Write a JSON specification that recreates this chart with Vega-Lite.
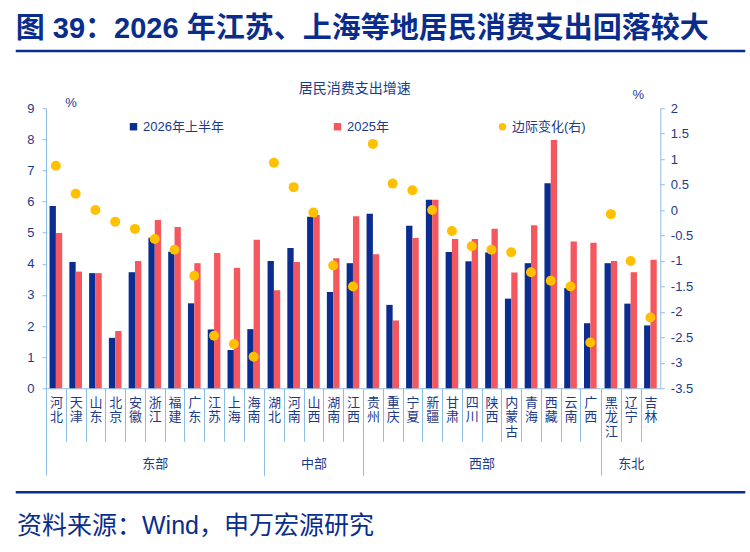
{
  "$schema": "https://vega.github.io/schema/vega-lite/v6.json",
  "padding": {"left": 15, "top": 14, "right": 8, "bottom": 4},
  "background": "white",
  "title": {
    "text": "图 39：2026 年江苏、上海等地居民消费支出回落较大",
    "anchor": "start",
    "fontSize": 29,
    "fontWeight": "bold",
    "color": "#0a2d8c",
    "offset": 3.5
  },
  "datasets": {
    "spend": [
      {"g": "东部", "p": "河北", "s": "2026年上半年", "v": 5.86}, {"g": "东部", "p": "河北", "s": "2025年", "v": 4.99}, {"g": "东部", "p": "河北", "s": "边际变化(右)", "v": 0.87},
      {"g": "东部", "p": "天津", "s": "2026年上半年", "v": 4.06}, {"g": "东部", "p": "天津", "s": "2025年", "v": 3.75}, {"g": "东部", "p": "天津", "s": "边际变化(右)", "v": 0.32},
      {"g": "东部", "p": "山东", "s": "2026年上半年", "v": 3.70}, {"g": "东部", "p": "山东", "s": "2025年", "v": 3.70}, {"g": "东部", "p": "山东", "s": "边际变化(右)", "v": 0.0},
      {"g": "东部", "p": "北京", "s": "2026年上半年", "v": 1.62}, {"g": "东部", "p": "北京", "s": "2025年", "v": 1.84}, {"g": "东部", "p": "北京", "s": "边际变化(右)", "v": -0.23},
      {"g": "东部", "p": "安徽", "s": "2026年上半年", "v": 3.73}, {"g": "东部", "p": "安徽", "s": "2025年", "v": 4.09}, {"g": "东部", "p": "安徽", "s": "边际变化(右)", "v": -0.37},
      {"g": "东部", "p": "浙江", "s": "2026年上半年", "v": 4.84}, {"g": "东部", "p": "浙江", "s": "2025年", "v": 5.41}, {"g": "东部", "p": "浙江", "s": "边际变化(右)", "v": -0.57},
      {"g": "东部", "p": "福建", "s": "2026年上半年", "v": 4.39}, {"g": "东部", "p": "福建", "s": "2025年", "v": 5.18}, {"g": "东部", "p": "福建", "s": "边际变化(右)", "v": -0.78},
      {"g": "东部", "p": "广东", "s": "2026年上半年", "v": 2.73}, {"g": "东部", "p": "广东", "s": "2025年", "v": 4.02}, {"g": "东部", "p": "广东", "s": "边际变化(右)", "v": -1.29},
      {"g": "东部", "p": "江苏", "s": "2026年上半年", "v": 1.89}, {"g": "东部", "p": "江苏", "s": "2025年", "v": 4.35}, {"g": "东部", "p": "江苏", "s": "边际变化(右)", "v": -2.47},
      {"g": "东部", "p": "上海", "s": "2026年上半年", "v": 1.23}, {"g": "东部", "p": "上海", "s": "2025年", "v": 3.87}, {"g": "东部", "p": "上海", "s": "边际变化(右)", "v": -2.63},
      {"g": "东部", "p": "海南", "s": "2026年上半年", "v": 1.90}, {"g": "东部", "p": "海南", "s": "2025年", "v": 4.77}, {"g": "东部", "p": "海南", "s": "边际变化(右)", "v": -2.88},
      {"g": "中部", "p": "湖北", "s": "2026年上半年", "v": 4.09}, {"g": "中部", "p": "湖北", "s": "2025年", "v": 3.15}, {"g": "中部", "p": "湖北", "s": "边际变化(右)", "v": 0.93},
      {"g": "中部", "p": "河南", "s": "2026年上半年", "v": 4.51}, {"g": "中部", "p": "河南", "s": "2025年", "v": 4.06}, {"g": "中部", "p": "河南", "s": "边际变化(右)", "v": 0.45},
      {"g": "中部", "p": "山西", "s": "2026年上半年", "v": 5.51}, {"g": "中部", "p": "山西", "s": "2025年", "v": 5.57}, {"g": "中部", "p": "山西", "s": "边际变化(右)", "v": -0.05},
      {"g": "中部", "p": "湖南", "s": "2026年上半年", "v": 3.09}, {"g": "中部", "p": "湖南", "s": "2025年", "v": 4.18}, {"g": "中部", "p": "湖南", "s": "边际变化(右)", "v": -1.09},
      {"g": "中部", "p": "江西", "s": "2026年上半年", "v": 4.02}, {"g": "中部", "p": "江西", "s": "2025年", "v": 5.53}, {"g": "中部", "p": "江西", "s": "边际变化(右)", "v": -1.50},
      {"g": "西部", "p": "贵州", "s": "2026年上半年", "v": 5.61}, {"g": "西部", "p": "贵州", "s": "2025年", "v": 4.31}, {"g": "西部", "p": "贵州", "s": "边际变化(右)", "v": 1.30},
      {"g": "西部", "p": "重庆", "s": "2026年上半年", "v": 2.68}, {"g": "西部", "p": "重庆", "s": "2025年", "v": 2.18}, {"g": "西部", "p": "重庆", "s": "边际变化(右)", "v": 0.52},
      {"g": "西部", "p": "宁夏", "s": "2026年上半年", "v": 5.22}, {"g": "西部", "p": "宁夏", "s": "2025年", "v": 4.83}, {"g": "西部", "p": "宁夏", "s": "边际变化(右)", "v": 0.39},
      {"g": "西部", "p": "新疆", "s": "2026年上半年", "v": 6.06}, {"g": "西部", "p": "新疆", "s": "2025年", "v": 6.06}, {"g": "西部", "p": "新疆", "s": "边际变化(右)", "v": 0.0},
      {"g": "西部", "p": "甘肃", "s": "2026年上半年", "v": 4.38}, {"g": "西部", "p": "甘肃", "s": "2025年", "v": 4.80}, {"g": "西部", "p": "甘肃", "s": "边际变化(右)", "v": -0.41},
      {"g": "西部", "p": "四川", "s": "2026年上半年", "v": 4.08}, {"g": "西部", "p": "四川", "s": "2025年", "v": 4.80}, {"g": "西部", "p": "四川", "s": "边际变化(右)", "v": -0.71},
      {"g": "西部", "p": "陕西", "s": "2026年上半年", "v": 4.36}, {"g": "西部", "p": "陕西", "s": "2025年", "v": 5.13}, {"g": "西部", "p": "陕西", "s": "边际变化(右)", "v": -0.78},
      {"g": "西部", "p": "内蒙古", "s": "2026年上半年", "v": 2.88}, {"g": "西部", "p": "内蒙古", "s": "2025年", "v": 3.72}, {"g": "西部", "p": "内蒙古", "s": "边际变化(右)", "v": -0.83},
      {"g": "西部", "p": "青海", "s": "2026年上半年", "v": 4.02}, {"g": "西部", "p": "青海", "s": "2025年", "v": 5.24}, {"g": "西部", "p": "青海", "s": "边际变化(右)", "v": -1.22},
      {"g": "西部", "p": "西藏", "s": "2026年上半年", "v": 6.59}, {"g": "西部", "p": "西藏", "s": "2025年", "v": 7.98}, {"g": "西部", "p": "西藏", "s": "边际变化(右)", "v": -1.39},
      {"g": "西部", "p": "云南", "s": "2026年上半年", "v": 3.22}, {"g": "西部", "p": "云南", "s": "2025年", "v": 4.72}, {"g": "西部", "p": "云南", "s": "边际变化(右)", "v": -1.50},
      {"g": "西部", "p": "广西", "s": "2026年上半年", "v": 2.09}, {"g": "西部", "p": "广西", "s": "2025年", "v": 4.68}, {"g": "西部", "p": "广西", "s": "边际变化(右)", "v": -2.60},
      {"g": "东北", "p": "黑龙江", "s": "2026年上半年", "v": 4.02}, {"g": "东北", "p": "黑龙江", "s": "2025年", "v": 4.09}, {"g": "东北", "p": "黑龙江", "s": "边际变化(右)", "v": -0.08},
      {"g": "东北", "p": "辽宁", "s": "2026年上半年", "v": 2.72}, {"g": "东北", "p": "辽宁", "s": "2025年", "v": 3.73}, {"g": "东北", "p": "辽宁", "s": "边际变化(右)", "v": -1.00},
      {"g": "东北", "p": "吉林", "s": "2026年上半年", "v": 2.02}, {"g": "东北", "p": "吉林", "s": "2025年", "v": 4.13}, {"g": "东北", "p": "吉林", "s": "边际变化(右)", "v": -2.11}
    ]
  },
  "spacing": 27.25,
  "vconcat": [
    {
      "width": 727,
      "height": 0.01,
      "data": {"values": [{}]},
      "mark": {"type": "point", "opacity": 0},
      "encoding": {},
      "view": {"stroke": "#0a2d8c", "strokeWidth": 2.5}
    },
    {
      "spacing": 12,
      "vconcat": [
        {
          "title": {"text": "居民消费支出增速", "fontSize": 14, "fontWeight": "normal", "color": "#1b3a8a", "anchor": "middle", "offset": -8},
          "data": {"name": "spend"},
          "spacing": 0,
          "bounds": "flush",
          "hconcat": [
            {
              "width": 29,
              "height": 280,
              "data": {"values": [{}]},
              "mark": {"type": "point", "opacity": 0},
              "encoding": {}
            },
            {
              "width": 217.5,
              "height": 280,
              "transform": [{"filter": "datum.g == '东部'"}],
              "layer": [
                {
                  "transform": [{"filter": "datum.s != '边际变化(右)'"}],
                  "mark": {"type": "bar"},
                  "encoding": {
                    "x": {
                      "field": "p", "type": "nominal", "sort": null,
                      "scale": {"paddingInner": 0.36, "paddingOuter": 0.18},
                      "axis": {
                        "title": "东部", "titleY": 75, "titleBaseline": "middle",
                        "labelExpr": "split(datum.label, '')",
                        "bandPosition": 0, "tickOffset": -3.56, "labelOffset": 3.56,
                        "tickSize": {"condition": {"test": "indexof(['河北','湖北','贵州','黑龙江'], datum.value) >= 0", "value": 87}, "value": 53},
                        "labelPadding": {"condition": {"test": "indexof(['河北','湖北','贵州','黑龙江'], datum.value) >= 0", "value": -79}, "value": -45}
                      }
                    },
                    "xOffset": {"field": "s", "type": "nominal", "sort": ["2026年上半年", "2025年"], "scale": {"paddingInner": 0, "paddingOuter": 0}},
                    "y": {
                      "field": "v", "type": "quantitative", "scale": {"domain": [0, 9]},
                      "axis": {
                        "values": [0, 1, 2, 3, 4, 5, 6, 7, 8, 9],
                        "title": "%", "titleAngle": 0, "titleX": 24.5, "titleY": -6,
                        "titleAlign": "center", "titleBaseline": "middle",
                        "tickSize": 4, "labelPadding": 8
                      }
                    },
                    "color": {
                      "field": "s", "type": "nominal",
                      "scale": {"domain": ["2026年上半年", "2025年", "边际变化(右)"], "range": ["#0b2d91", "#f4585e", "#ffc000"]},
                      "legend": {
                        "orient": "none", "legendX": 110, "legendY": 69,
                        "direction": "horizontal", "title": null,
                        "columnPadding": 107, "symbolSize": 55, "labelOffset": 3,
                        "symbolStrokeWidth": 0,
                        "encode": {"symbols": {"update": {"shape": {"signal": "datum.value === '边际变化(右)' ? 'circle' : 'square'"}}}}
                      }
                    }
                  }
                },
                {
                  "transform": [{"filter": "datum.s == '边际变化(右)'"}],
                  "mark": {"type": "point", "filled": true, "size": 100, "opacity": 1},
                  "encoding": {
                    "x": {"field": "p", "type": "nominal", "sort": null},
                    "y": {"field": "v", "type": "quantitative", "scale": {"domain": [-3.5, 2]}, "axis": null},
                    "color": {"field": "s", "type": "nominal"}
                  }
                }
              ],
              "resolve": {"scale": {"y": "independent"}}
            },
            {
              "width": 98.85,
              "height": 280,
              "transform": [{"filter": "datum.g == '中部'"}],
              "layer": [
                {
                  "transform": [{"filter": "datum.s != '边际变化(右)'"}],
                  "mark": {"type": "bar"},
                  "encoding": {
                    "x": {
                      "field": "p", "type": "nominal", "sort": null,
                      "scale": {"paddingInner": 0.36, "paddingOuter": 0.18},
                      "axis": {
                        "title": "中部", "titleY": 75, "titleBaseline": "middle",
                        "labelExpr": "split(datum.label, '')",
                        "bandPosition": 0, "tickOffset": -3.56, "labelOffset": 3.56,
                        "tickSize": {"condition": {"test": "indexof(['河北','湖北','贵州','黑龙江'], datum.value) >= 0", "value": 87}, "value": 53},
                        "labelPadding": {"condition": {"test": "indexof(['河北','湖北','贵州','黑龙江'], datum.value) >= 0", "value": -79}, "value": -45}
                      }
                    },
                    "xOffset": {"field": "s", "type": "nominal", "sort": ["2026年上半年", "2025年"], "scale": {"paddingInner": 0, "paddingOuter": 0}},
                    "y": {"field": "v", "type": "quantitative", "scale": {"domain": [0, 9]}, "axis": null},
                    "color": {"field": "s", "type": "nominal"}
                  }
                },
                {
                  "transform": [{"filter": "datum.s == '边际变化(右)'"}],
                  "mark": {"type": "point", "filled": true, "size": 100, "opacity": 1},
                  "encoding": {
                    "x": {"field": "p", "type": "nominal", "sort": null},
                    "y": {"field": "v", "type": "quantitative", "scale": {"domain": [-3.5, 2]}, "axis": null},
                    "color": {"field": "s", "type": "nominal"}
                  }
                }
              ],
              "resolve": {"scale": {"y": "independent"}}
            },
            {
              "width": 237.2,
              "height": 280,
              "transform": [{"filter": "datum.g == '西部'"}],
              "layer": [
                {
                  "transform": [{"filter": "datum.s != '边际变化(右)'"}],
                  "mark": {"type": "bar"},
                  "encoding": {
                    "x": {
                      "field": "p", "type": "nominal", "sort": null,
                      "scale": {"paddingInner": 0.36, "paddingOuter": 0.18},
                      "axis": {
                        "title": "西部", "titleY": 75, "titleBaseline": "middle",
                        "labelExpr": "split(datum.label, '')",
                        "bandPosition": 0, "tickOffset": -3.56, "labelOffset": 3.56,
                        "tickSize": {"condition": {"test": "indexof(['河北','湖北','贵州','黑龙江'], datum.value) >= 0", "value": 87}, "value": 53},
                        "labelPadding": {"condition": {"test": "indexof(['河北','湖北','贵州','黑龙江'], datum.value) >= 0", "value": -79}, "value": -45}
                      }
                    },
                    "xOffset": {"field": "s", "type": "nominal", "sort": ["2026年上半年", "2025年"], "scale": {"paddingInner": 0, "paddingOuter": 0}},
                    "y": {"field": "v", "type": "quantitative", "scale": {"domain": [0, 9]}, "axis": null},
                    "color": {"field": "s", "type": "nominal"}
                  }
                },
                {
                  "transform": [{"filter": "datum.s == '边际变化(右)'"}],
                  "mark": {"type": "point", "filled": true, "size": 100, "opacity": 1},
                  "encoding": {
                    "x": {"field": "p", "type": "nominal", "sort": null},
                    "y": {"field": "v", "type": "quantitative", "scale": {"domain": [-3.5, 2]}, "axis": null},
                    "color": {"field": "s", "type": "nominal"}
                  }
                }
              ],
              "resolve": {"scale": {"y": "independent"}}
            },
            {
              "width": 59.3,
              "height": 280,
              "transform": [{"filter": "datum.g == '东北'"}],
              "layer": [
                {
                  "transform": [{"filter": "datum.s != '边际变化(右)'"}],
                  "mark": {"type": "bar"},
                  "encoding": {
                    "x": {
                      "field": "p", "type": "nominal", "sort": null,
                      "scale": {"paddingInner": 0.36, "paddingOuter": 0.18},
                      "axis": {
                        "title": "东北", "titleY": 75, "titleBaseline": "middle",
                        "labelExpr": "split(datum.label, '')",
                        "bandPosition": 0, "tickOffset": -3.56, "labelOffset": 3.56,
                        "tickSize": {"condition": {"test": "indexof(['河北','湖北','贵州','黑龙江'], datum.value) >= 0", "value": 87}, "value": 53},
                        "labelPadding": {"condition": {"test": "indexof(['河北','湖北','贵州','黑龙江'], datum.value) >= 0", "value": -79}, "value": -45}
                      }
                    },
                    "xOffset": {"field": "s", "type": "nominal", "sort": ["2026年上半年", "2025年"], "scale": {"paddingInner": 0, "paddingOuter": 0}},
                    "y": {"field": "v", "type": "quantitative", "scale": {"domain": [0, 9]}, "axis": null},
                    "color": {"field": "s", "type": "nominal"}
                  }
                },
                {
                  "transform": [{"filter": "datum.s == '边际变化(右)'"}],
                  "mark": {"type": "point", "filled": true, "size": 100, "opacity": 1},
                  "encoding": {
                    "x": {"field": "p", "type": "nominal", "sort": null},
                    "y": {
                      "field": "v", "type": "quantitative", "scale": {"domain": [-3.5, 2]},
                      "axis": {
                        "orient": "right",
                        "values": [-3.5, -3, -2.5, -2, -1.5, -1, -0.5, 0, 0.5, 1, 1.5, 2],
                        "format": "~g",
                        "labelExpr": "replace(datum.label, '\u2212', '-')",
                        "title": "%", "titleAngle": 0, "titleX": -22.5, "titleY": -14,
                        "titleAlign": "center", "titleBaseline": "middle",
                        "tickSize": 4, "labelPadding": 6
                      }
                    },
                    "color": {"field": "s", "type": "nominal"}
                  }
                }
              ],
              "resolve": {"scale": {"y": "independent"}}
            }
          ]
        },
        {
          "width": 727,
          "height": 0.01,
          "data": {"values": [{}]},
          "mark": {"type": "point", "opacity": 0},
          "encoding": {},
          "view": {"stroke": "#0a2d8c", "strokeWidth": 2.5},
          "title": {
            "text": "资料来源：Wind，申万宏源研究",
            "orient": "bottom", "anchor": "start",
            "fontSize": 25, "fontWeight": "normal", "color": "#0a2d8c", "offset": 19
          }
        }
      ]
    }
  ],
  "config": {
    "font": "Liberation Sans, Noto Sans CJK SC",
    "view": {"stroke": null},
    "axis": {
      "grid": false,
      "labelFontSize": 13,
      "labelColor": "#1b3a8a",
      "titleColor": "#1b3a8a",
      "titleFontSize": 13,
      "titleFontWeight": "normal",
      "domainColor": "#8cbde3",
      "tickColor": "#8cbde3"
    },
    "axisX": {
      "labelAngle": 0,
      "labelBaseline": "top",
      "labelLineHeight": 14.5
    },
    "legend": {
      "labelFontSize": 13,
      "labelColor": "#1b3a8a"
    }
  }
}
